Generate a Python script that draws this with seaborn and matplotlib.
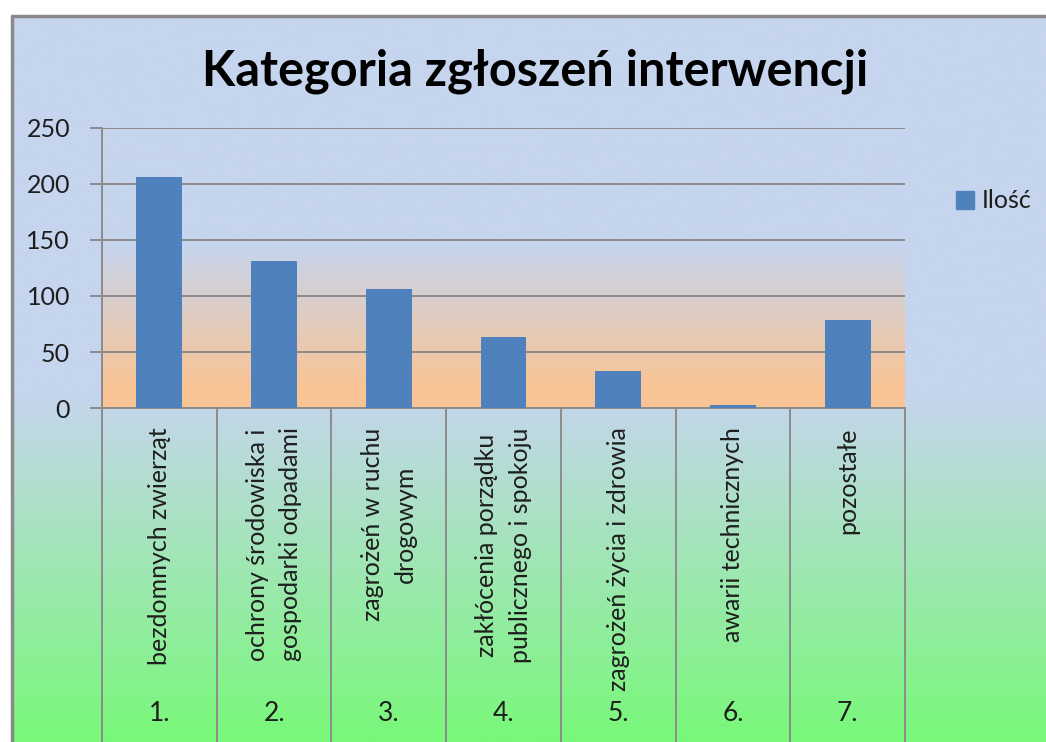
import numpy as np
import matplotlib
matplotlib.use("Agg")
import matplotlib.pyplot as plt
import seaborn as sns
from matplotlib.colors import to_rgb
from matplotlib.lines import Line2D
from matplotlib.patches import Patch

# ---------------- data ----------------
title = "Kategoria zgłoszeń interwencji"
categories = [
    "bezdomnych zwierząt",
    "ochrony środowiska i\ngospodarki odpadami",
    "zagrożeń w ruchu\ndrogowym",
    "zakłócenia porządku\npublicznego i spokoju",
    "zagrożeń życia i zdrowia",
    "awarii technicznych",
    "pozostałe",
]
numbers = ["1.", "2.", "3.", "4.", "5.", "6.", "7."]
values = [206, 131, 106, 63, 33, 3, 79]
series_name = "Ilość"
yticks = [0, 50, 100, 150, 200, 250]

# ---------------- style ----------------
sns.set_theme(style="white")
plt.rcParams['font.family'] = ['Lato', 'DejaVu Sans']

BAR = '#4f81bd'
GRID = '#8c8c8c'
TXT = '#1e1e1e'

W, H = 1046, 742
fig = plt.figure(figsize=(W / 100, H / 100), dpi=100)
fig.patch.set_facecolor('white')

# chart-area background gradient (blue -> green)
bg = fig.add_axes([12 / W, 0, 1 - 12 / W, (H - 16) / H], zorder=-2)
t = np.linspace(0, 1, 500)
c_top = np.array(to_rgb('#c6d5ee'))
c_bot = np.array(to_rgb('#78f878'))
f = np.clip((t - 0.52) / (1 - 0.52), 0, 1)
grad = c_top[None, :] * (1 - f[:, None]) + c_bot[None, :] * f[:, None]
bg.imshow(grad[:, None, :], aspect='auto', extent=[0, 1, 0, 1], origin='upper')
bg.axis('off')

# frame lines
fig.add_artist(Line2D([12 / W, 12 / W], [0, (H - 16) / H], color='#8a8a8a', lw=2.5,
                      transform=fig.transFigure))
fig.add_artist(Line2D([12 / W, 1], [(H - 16) / H, (H - 16) / H], color='#8a8a8a', lw=2.5,
                      transform=fig.transFigure))

pos = [102 / W, (H - 408) / H, (905 - 102) / W, 280 / H]

# plot-area gradient (blue -> peach)
pa = fig.add_axes(pos, zorder=-1)
v = np.linspace(250, 0, 500)
c_pt = np.array(to_rgb('#c6d5ee'))
c_pb = np.array(to_rgb('#f9c496'))
g = np.clip((145 - v) / (145 - 20), 0, 1)
pgrad = c_pt[None, :] * (1 - g[:, None]) + c_pb[None, :] * g[:, None]
pa.imshow(pgrad[:, None, :], aspect='auto', extent=[0, 1, 0, 1], origin='upper')
pa.axis('off')

ax = fig.add_axes(pos, zorder=1)
ax.patch.set_alpha(0)

sns.barplot(x=list(range(len(values))), y=values, color=BAR, saturation=1,
            width=0.4, ax=ax, zorder=3, linewidth=0, edgecolor=BAR)

ax.set_xlim(-0.5, len(values) - 0.5)
ax.set_ylim(0, 250)
ax.set_yticks(yticks)
ax.set_yticklabels([str(y) for y in yticks])
ax.set_xticks([])
ax.set_xlabel('')
ax.set_ylabel('')
ax.yaxis.grid(True, color=GRID, lw=1.4)
ax.set_axisbelow(True)
for s in ['top', 'right']:
    ax.spines[s].set_visible(False)
ax.spines['bottom'].set_color(GRID)
ax.spines['bottom'].set_linewidth(1.4)
ax.spines['left'].set_visible(False)
ax.tick_params(axis='y', left=True, length=9, width=1.4, color=GRID, pad=14,
               labelsize=18, labelcolor=TXT)

tr = ax.get_xaxis_transform()
bottom_frac = -(742 - 408) / 280
for i in range(len(values) + 1):
    ax.plot([i - 0.5, i - 0.5], [1 if i == 0 else 0, bottom_frac], transform=tr,
            color=GRID, lw=1.4, clip_on=False, zorder=2)

for i, (lab, num) in enumerate(zip(categories, numbers)):
    ax.text(i, -0.07, lab, rotation=90, ha='center', va='top', multialignment='center',
            transform=tr, fontsize=18, color=TXT, linespacing=1.55)
    ax.text(i, -(713 - 408) / 280, num, ha='center', va='center', transform=tr,
            fontsize=19, color=TXT)

ax.legend([Patch(color=BAR)], [series_name], loc='center left',
          bbox_to_anchor=(956 / W, 1 - 201 / H), bbox_transform=fig.transFigure,
          frameon=False, fontsize=18, handlelength=0.7, handleheight=0.7,
          handletextpad=0.35, borderpad=0, borderaxespad=0, labelcolor=TXT)

fig.text(535 / W, 1 - 71 / H, title, ha='center', va='center', fontsize=35,
         weight='bold', color='black')

fig.savefig('out.png', dpi=100)
